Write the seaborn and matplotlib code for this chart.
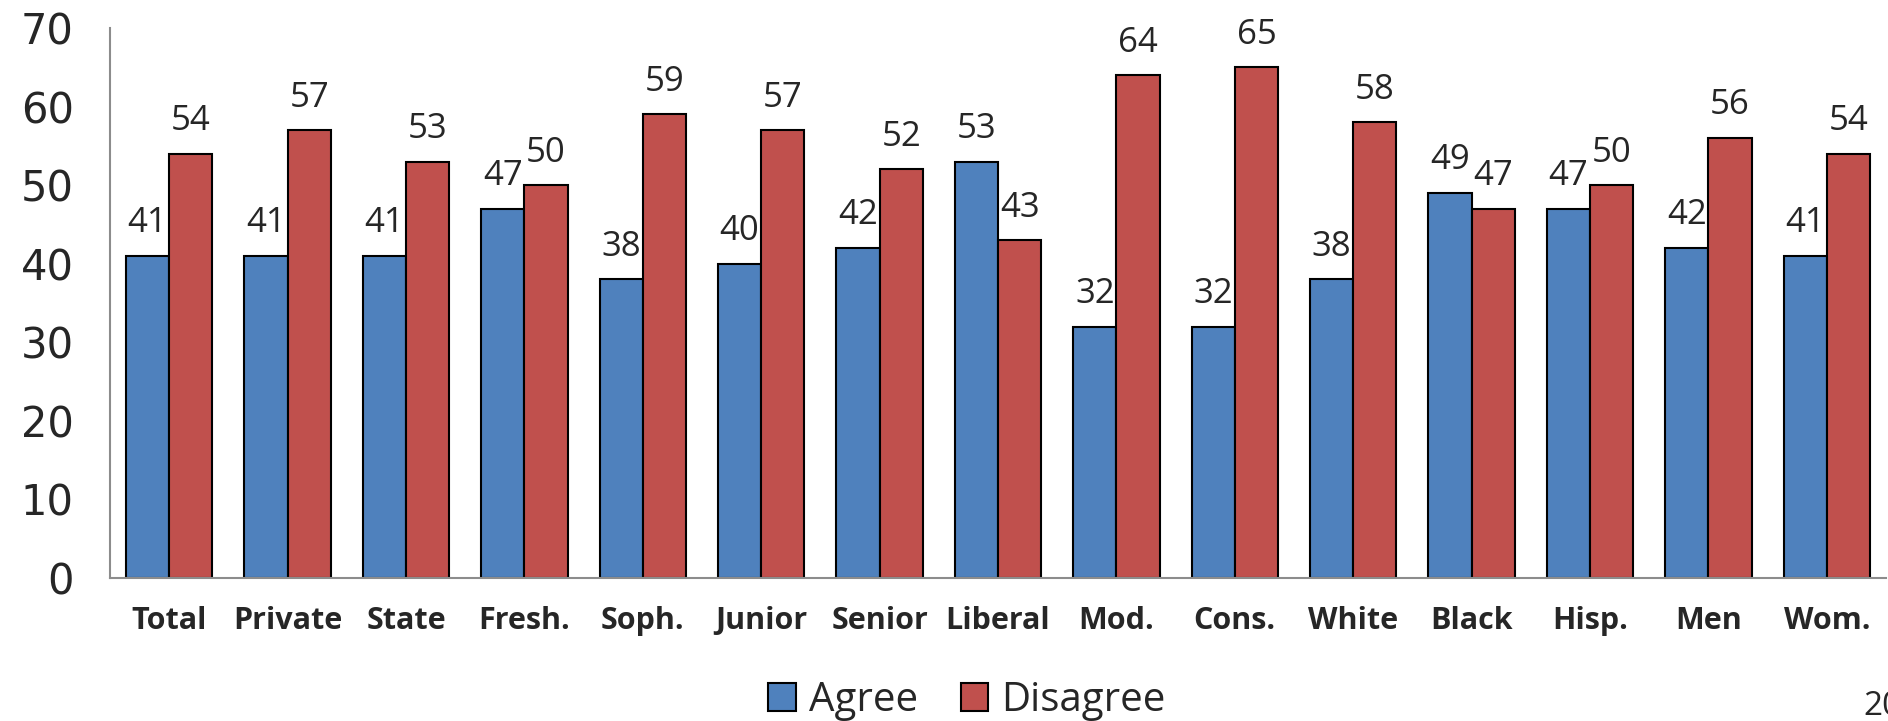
import pandas as pd
import seaborn as sns
import matplotlib.pyplot as plt
from matplotlib.patches import Patch

groups = ['Total', 'Private', 'State', 'Fresh.', 'Soph.', 'Junior', 'Senior', 'Liberal',
          'Mod.', 'Cons.', 'White', 'Black', 'Hisp.', 'Men', 'Wom.']
agree = [41, 41, 41, 47, 38, 40, 42, 53, 32, 32, 38, 49, 47, 42, 41]
disagree = [54, 57, 53, 50, 59, 57, 52, 43, 64, 65, 58, 47, 50, 56, 54]
answers = ['Agree', 'Disagree']
colors = ['#4F81BD', '#C0504D']
yticks = [0, 10, 20, 30, 40, 50, 60, 70]

df = pd.DataFrame({'group': groups * 2,
                   'answer': ['Agree'] * len(groups) + ['Disagree'] * len(groups),
                   'pct': agree + disagree})

sns.set_style('white')
plt.rcParams['font.family'] = ['Open Sans', 'DejaVu Sans']

fig = plt.figure(figsize=[18.88, 7.21], dpi=100)
ax = fig.add_axes([110 / 1888, 0.1983, 1776 / 1888, 0.7628])  # [left, bottom, width, height]

sns.barplot(data=df, x='group', y='pct', hue='answer', order=groups, hue_order=answers,
            palette=colors, saturation=1, width=0.73, gap=0,
            edgecolor='black', linewidth=1.5, legend=False, ax=ax)

# data labels above each bar
for cont, vals in zip(ax.containers, [agree, disagree]):
    for bar, v in zip(cont, vals):
        ax.annotate(f'{v}', (bar.get_x() + bar.get_width() / 2, bar.get_height()),
                    xytext=(0, 17), textcoords='offset points',
                    ha='center', va='baseline', fontsize=25)

ax.set_xlim(-0.5, len(groups) - 0.5)
ax.set_ylim(0, 70)
ax.set_yticks(yticks)
ax.set_xlabel('')
ax.set_ylabel('')
for b in ['top', 'right']:
    ax.spines[b].set_visible(False)
for b in ['left', 'bottom']:
    ax.spines[b].set_color('#8c8c8c')
    ax.spines[b].set_linewidth(1.5)

ax.tick_params(axis='y', length=0, pad=26, labelsize=30)
ax.tick_params(axis='x', length=0, pad=20, labelsize=22)
for lab in ax.get_yticklabels():
    lab.set_fontfamily('DejaVu Sans')
for lab in ax.get_xticklabels():
    lab.set_fontweight('bold')

handles = [Patch(facecolor=c, edgecolor='black', linewidth=1.5, label=a)
           for a, c in zip(answers, colors)]
fig.legend(handles=handles, loc='center', bbox_to_anchor=(967 / 1888, 1 - 701 / 721),
           ncol=2, frameon=False, fontsize=29, handlelength=0.68, handleheight=0.68,
           handletextpad=0.33, columnspacing=1.05)

fig.text(1863 / 1888, 6 / 721, '20', fontsize=24, ha='left', va='baseline')

plt.savefig('out.png', dpi=100)
plt.close()
